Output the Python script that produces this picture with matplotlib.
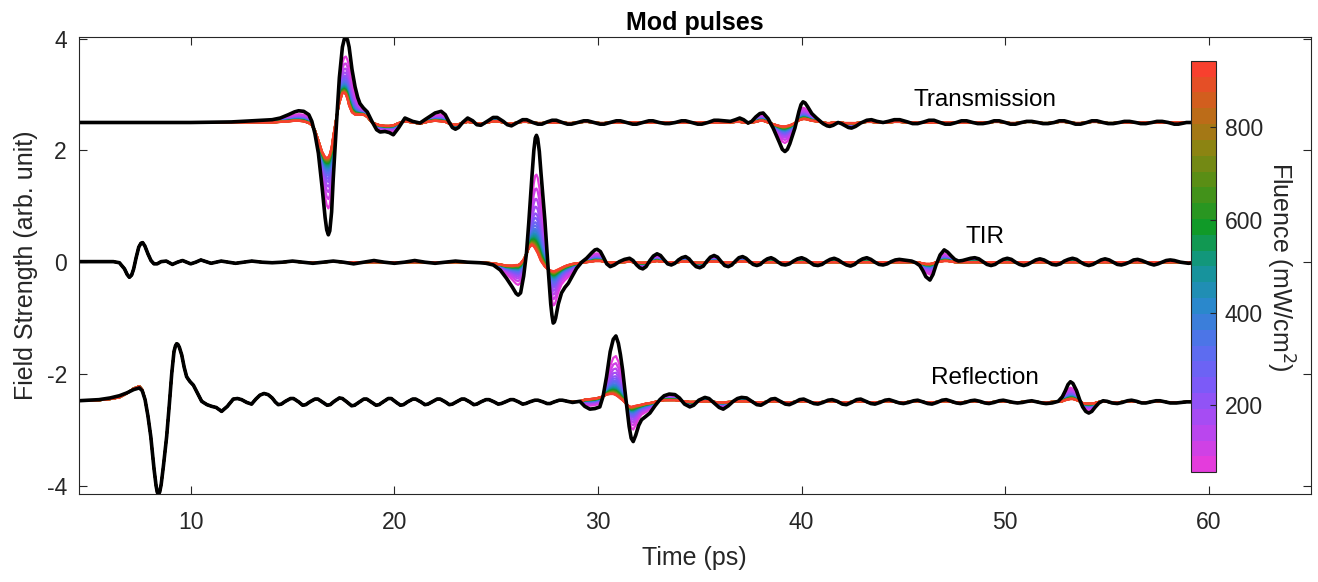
import numpy as np
import matplotlib
matplotlib.use("Agg")
import matplotlib.pyplot as plt
from matplotlib.colors import LinearSegmentedColormap, Normalize
from matplotlib.cm import ScalarMappable

plt.rcParams["font.family"] = ["Liberation Sans", "DejaVu Sans"]
plt.rcParams["font.size"] = 16.5
plt.rcParams["axes.unicode_minus"] = False

# fluence of each coloured curve (mW/cm^2) and where each curve sits
# between the highest-fluence (red) trace and the reference (black) trace
fluence = [60, 95, 130, 166, 201, 236, 271, 306, 342, 377, 412, 447, 482,
           518, 553, 588, 623, 658, 694, 729, 764, 799, 834, 870, 905, 940]
weight = [0.66, 0.54, 0.45, 0.38, 0.32, 0.28, 0.24, 0.21, 0.18, 0.16, 0.14,
          0.125, 0.11, 0.095, 0.083, 0.072, 0.061, 0.052, 0.043, 0.036,
          0.029, 0.022, 0.016, 0.010, 0.005, 0.0]

# ---- transmission (offset +2.5)
trans_t = [4.5, 10.0, 12.0, 13.0, 14.0, 14.4, 14.8, 15.1,
           15.3, 15.55, 15.8, 15.95, 16.1, 16.27, 16.45, 16.6,
           16.68, 16.76, 16.83, 16.92, 17.0, 17.17, 17.3, 17.45,
           17.54, 17.62, 17.7, 17.78,
           17.92, 18.07, 18.2, 18.31, 18.48, 18.67, 18.9, 19.13,
           19.3, 19.54, 19.75, 19.95, 20.2, 20.52, 20.9, 21.26,
           21.5, 21.75, 22.0, 22.3, 22.5, 22.7, 22.85, 23.0,
           23.15, 23.35, 23.6, 23.85, 24.05, 24.25, 24.6, 24.85,
           25.05, 25.35, 25.55, 25.75, 26.05, 26.3, 26.5, 26.8,
           27.05, 27.25, 27.5, 27.75, 27.95, 28.25, 28.5, 28.7,
           29.0, 29.3, 29.5, 29.8, 30.1, 30.3, 30.6, 30.9,
           31.1, 31.4, 31.7, 31.9, 32.2, 32.5, 32.7, 33.0,
           33.3, 33.5, 33.8, 34.1, 34.3, 34.6, 34.9, 35.1,
           35.4, 35.7, 35.9, 36.2, 36.5, 36.75, 36.96, 37.15,
           37.37, 37.55, 37.75, 37.95, 38.11, 38.35, 38.6, 38.9,
           39.05, 39.18, 39.3, 39.42, 39.67, 39.87, 39.97, 40.07,
           40.17, 40.3, 40.5, 40.73, 41.05, 41.25, 41.38, 41.55,
           41.79, 41.95, 42.1, 42.3, 42.45, 42.65, 42.9, 43.2,
           43.43, 43.7, 44.0, 44.25, 44.55, 44.82, 45.2, 45.45,
           45.7, 46.0, 46.25, 46.5, 46.8, 47.05, 47.3, 47.6,
           47.85, 48.1, 48.4, 48.65, 48.9, 49.2, 49.45, 49.7,
           50.0, 50.25, 50.5, 50.8, 51.05, 51.3, 51.6, 51.85,
           52.1, 52.4, 52.65, 52.9, 53.2, 53.45, 53.7, 54.0,
           54.25, 54.5, 54.8, 55.05, 55.3, 55.6, 55.85, 56.1,
           56.4, 56.65, 56.9, 57.2, 57.45, 57.7, 58.0, 58.3,
           58.5, 58.9, 59.5]
trans_black = [2.50, 2.50, 2.51, 2.53, 2.55, 2.58, 2.64, 2.69,
               2.71, 2.70, 2.64, 2.52, 2.30, 1.95, 1.35, 0.80,
               0.58, 0.49, 0.56, 0.90, 1.50, 2.55, 3.30, 3.85,
               3.99, 4.03, 3.98, 3.85,
               3.45, 3.14, 2.95, 2.84, 2.76, 2.69, 2.52, 2.37,
               2.33, 2.34, 2.32, 2.28, 2.40, 2.58, 2.52, 2.49,
               2.55, 2.61, 2.67, 2.70, 2.64, 2.50, 2.41, 2.38,
               2.41, 2.50, 2.58, 2.53, 2.46, 2.45, 2.53, 2.59,
               2.59, 2.52, 2.46, 2.44, 2.50, 2.55, 2.55, 2.50,
               2.47, 2.47, 2.51, 2.54, 2.54, 2.50, 2.47, 2.47,
               2.50, 2.53, 2.53, 2.50, 2.47, 2.47, 2.50, 2.53,
               2.53, 2.50, 2.47, 2.47, 2.50, 2.53, 2.53, 2.50,
               2.48, 2.48, 2.50, 2.53, 2.53, 2.50, 2.47, 2.47,
               2.50, 2.54, 2.54, 2.53, 2.52, 2.55, 2.58, 2.55,
               2.49, 2.52, 2.60, 2.66, 2.67, 2.57, 2.40, 2.15,
               2.02, 1.98, 2.02, 2.12, 2.40, 2.70, 2.82, 2.87,
               2.85, 2.78, 2.66, 2.58, 2.48, 2.44, 2.43, 2.45,
               2.50, 2.48, 2.45, 2.41, 2.40, 2.43, 2.49, 2.54,
               2.55, 2.52, 2.50, 2.52, 2.55, 2.55, 2.51, 2.48,
               2.48, 2.51, 2.54, 2.54, 2.50, 2.47, 2.47, 2.50,
               2.53, 2.53, 2.50, 2.48, 2.48, 2.50, 2.53, 2.53,
               2.50, 2.47, 2.47, 2.50, 2.52, 2.52, 2.50, 2.48,
               2.48, 2.50, 2.53, 2.53, 2.50, 2.47, 2.47, 2.50,
               2.53, 2.53, 2.50, 2.48, 2.48, 2.50, 2.52, 2.52,
               2.50, 2.48, 2.48, 2.50, 2.52, 2.52, 2.50, 2.47,
               2.47, 2.50, 2.50]
trans_red = [2.50, 2.50, 2.50, 2.50, 2.50, 2.51, 2.52, 2.53,
             2.53, 2.52, 2.49, 2.45, 2.36, 2.18, 1.98, 1.88,
             1.87, 1.88, 1.93, 2.05, 2.25, 2.62, 2.85, 3.02,
             3.03, 3.00, 2.92, 2.80,
             2.68, 2.64, 2.64, 2.64, 2.64, 2.60, 2.50, 2.47,
             2.45, 2.44, 2.44, 2.45, 2.49, 2.52, 2.50, 2.48,
             2.50, 2.52, 2.53, 2.52, 2.51, 2.48, 2.47, 2.46,
             2.47, 2.49, 2.51, 2.50, 2.48, 2.48, 2.50, 2.52,
             2.52, 2.50, 2.48, 2.48, 2.50, 2.51, 2.51, 2.50,
             2.49, 2.49, 2.50, 2.50, 2.50, 2.50, 2.49, 2.49,
             2.50, 2.51, 2.51, 2.50, 2.49, 2.49, 2.50, 2.50,
             2.50, 2.50, 2.50, 2.50, 2.50, 2.50, 2.50, 2.50,
             2.50, 2.50, 2.50, 2.50, 2.50, 2.50, 2.50, 2.50,
             2.50, 2.50, 2.50, 2.50, 2.50, 2.51, 2.51, 2.50,
             2.49, 2.50, 2.51, 2.53, 2.53, 2.50, 2.47, 2.44,
             2.43, 2.43, 2.44, 2.45, 2.49, 2.54, 2.55, 2.56,
             2.56, 2.55, 2.53, 2.52, 2.50, 2.49, 2.49, 2.50,
             2.50, 2.50, 2.49, 2.49, 2.49, 2.49, 2.50, 2.51,
             2.51, 2.50, 2.50, 2.50, 2.51, 2.51, 2.50, 2.50,
             2.50, 2.50, 2.50, 2.50, 2.50, 2.50, 2.50, 2.50,
             2.50, 2.50, 2.50, 2.50, 2.50, 2.50, 2.51, 2.51,
             2.50, 2.49, 2.49, 2.50, 2.51, 2.51, 2.50, 2.49,
             2.49, 2.50, 2.51, 2.51, 2.50, 2.49, 2.49, 2.50,
             2.51, 2.51, 2.50, 2.49, 2.49, 2.50, 2.50, 2.50,
             2.50, 2.50, 2.50, 2.50, 2.50, 2.50, 2.50, 2.50,
             2.50, 2.50, 2.50]

# ---- TIR (offset 0)
tir_t = [4.5, 6.2, 6.5, 6.75, 6.88, 6.99, 7.1, 7.2,
         7.32, 7.45, 7.56, 7.64, 7.75, 7.9, 8.05, 8.2,
         8.35, 8.55, 8.8, 8.95, 9.1, 9.35, 9.6, 9.8,
         10.0, 10.25, 10.5, 10.75, 11.0, 11.25, 11.5, 11.85,
         12.2, 12.6, 13.0, 13.5, 14.0, 14.5, 15.0, 15.5,
         16.0, 16.5, 17.0, 17.5, 18.0, 18.5, 19.0, 19.5,
         20.0, 20.5, 21.0, 21.5, 22.0, 22.5, 23.0, 23.6,
         24.2, 24.5, 24.86, 25.2, 25.51, 25.8, 25.98, 26.08,
         26.2, 26.35, 26.49, 26.6, 26.75, 26.85, 26.92, 26.98,
         27.04, 27.12,
         27.2, 27.39, 27.55, 27.68, 27.74, 27.8, 27.86, 27.92,
         28.05, 28.21,
         28.38, 28.54, 28.75, 28.95, 29.2, 29.44, 29.7, 29.85,
         29.96, 30.12, 30.28, 30.43, 30.6, 30.8, 31.05, 31.3,
         31.55, 31.72, 31.9, 32.05, 32.2, 32.36, 32.55, 32.72,
         32.9, 33.07, 33.25, 33.42, 33.6, 33.78, 33.95, 34.12,
         34.3, 34.47, 34.65, 34.82, 35.0, 35.17, 35.35, 35.52,
         35.7, 35.87, 36.05, 36.22, 36.4, 36.57, 36.75, 36.92,
         37.1, 37.27, 37.45, 37.62, 37.8, 37.97, 38.15, 38.32,
         38.5, 38.67, 38.85, 39.02, 39.2, 39.4, 39.6, 39.8,
         40.0, 40.2, 40.4, 40.6, 40.8, 41.0, 41.2, 41.4,
         41.6, 41.8, 42.0, 42.2, 42.4, 42.6, 42.8, 43.0,
         43.2, 43.4, 43.6, 43.8, 44.0, 44.2, 44.4, 44.6,
         44.8, 45.0, 45.2, 45.4, 45.6, 45.8, 45.95, 46.1,
         46.3, 46.45, 46.6, 46.8, 47.0, 47.17, 47.35, 47.52,
         47.7, 47.9, 48.1, 48.3, 48.5, 48.7, 48.9, 49.1,
         49.3, 49.5, 49.7, 49.9, 50.1, 50.3, 50.5, 50.7,
         50.9, 51.1, 51.3, 51.5, 51.7, 51.9, 52.1, 52.3,
         52.5, 52.7, 52.9, 53.1, 53.3, 53.5, 53.7, 53.9,
         54.1, 54.3, 54.5, 54.7, 54.9, 55.1, 55.3, 55.5,
         55.7, 55.9, 56.1, 56.3, 56.5, 56.7, 56.9, 57.1,
         57.3, 57.5, 57.7, 57.9, 58.1, 58.3, 58.6, 59.0,
         59.5]
tir_black = [0.01, 0.01, -0.01, -0.12, -0.22, -0.27, -0.23, -0.12,
             0.08, 0.27, 0.34, 0.35, 0.29, 0.15, 0.03, -0.03,
             -0.03, 0.01, 0.02, -0.01, -0.04, 0.00, 0.03, 0.00,
             -0.03, 0.00, 0.04, 0.01, -0.02, 0.00, 0.02, 0.00,
             -0.02, 0.00, 0.02, 0.00, -0.01, 0.00, 0.02, 0.00,
             -0.02, 0.00, 0.02, 0.00, -0.03, 0.00, 0.03, 0.00,
             -0.02, 0.00, 0.03, 0.00, -0.02, 0.00, 0.02, 0.00,
             -0.01, -0.02, -0.05, -0.14, -0.29, -0.45, -0.56, -0.59,
             -0.55, -0.25, 0.17, 0.70, 1.50, 2.00, 2.22, 2.27,
             2.21, 1.98,
             1.60, 0.76, -0.10, -0.75, -0.95, -1.09, -1.07, -1.00,
             -0.75, -0.55,
             -0.45, -0.38, -0.24, -0.11, 0.00, 0.07, 0.17, 0.22,
             0.23, 0.19, 0.08, -0.03, -0.08, -0.05, 0.01, 0.05,
             0.07, 0.03, -0.05, -0.10, -0.12, -0.08, 0.03, 0.11,
             0.15, 0.12, 0.04, -0.03, -0.05, -0.02, 0.04, 0.08,
             0.10, 0.06, -0.02, -0.08, -0.10, -0.07, 0.02, 0.09,
             0.12, 0.09, 0.01, -0.06, -0.08, -0.05, 0.02, 0.08,
             0.10, 0.07, 0.01, -0.04, -0.06, -0.04, 0.02, 0.06,
             0.08, 0.05, 0.00, -0.04, -0.05, -0.03, 0.02, 0.06,
             0.08, 0.05, 0.00, -0.05, -0.06, -0.04, 0.01, 0.05,
             0.07, 0.04, -0.01, -0.05, -0.07, -0.04, 0.02, 0.06,
             0.08, 0.05, 0.00, -0.04, -0.05, -0.03, 0.01, 0.04,
             0.05, 0.04, 0.03, 0.02, -0.01, -0.06, -0.15, -0.26,
             -0.32, -0.22, -0.05, 0.13, 0.22, 0.18, 0.11, 0.05,
             0.02, 0.03, 0.05, 0.07, 0.08, 0.06, 0.01, -0.04,
             -0.06, -0.04, 0.01, 0.05, 0.07, 0.05, 0.00, -0.04,
             -0.06, -0.04, 0.00, 0.04, 0.06, 0.04, 0.00, -0.04,
             -0.05, -0.03, 0.02, 0.05, 0.07, 0.05, 0.00, -0.04,
             -0.06, -0.04, 0.00, 0.04, 0.06, 0.04, 0.00, -0.04,
             -0.05, -0.03, 0.00, 0.04, 0.05, 0.03, 0.00, -0.03,
             -0.05, -0.03, 0.00, 0.03, 0.04, 0.03, 0.00, -0.02,
             0.00]
tir_red = [0.01, 0.01, -0.01, -0.12, -0.22, -0.27, -0.23, -0.12,
           0.08, 0.27, 0.34, 0.35, 0.29, 0.15, 0.03, -0.03,
           -0.03, 0.01, 0.02, -0.01, -0.04, 0.00, 0.03, 0.00,
           -0.03, 0.00, 0.04, 0.01, -0.02, 0.00, 0.02, 0.00,
           -0.02, 0.00, 0.02, 0.00, -0.01, 0.00, 0.01, 0.00,
           -0.01, 0.00, 0.01, 0.00, 0.00, 0.00, 0.00, 0.00,
           0.00, 0.00, 0.00, 0.00, 0.00, 0.00, 0.00, 0.00,
           0.00, -0.01, -0.02, -0.04, -0.06, -0.06, -0.05, -0.05,
           -0.02, 0.05, 0.15, 0.25, 0.31, 0.28, 0.24, 0.20,
           0.16, 0.09,
           0.02, -0.08, -0.13, -0.15, -0.155, -0.16, -0.16, -0.15,
           -0.13, -0.10,
           -0.07, -0.05, -0.03, -0.02, -0.01, 0.00, 0.01, 0.02,
           0.02, 0.02, 0.01, 0.00, -0.01, 0.00, 0.00, 0.00,
           0.01, 0.00, 0.00, -0.01, -0.01, -0.01, 0.00, 0.01,
           0.02, 0.01, 0.01, 0.00, 0.00, 0.00, 0.00, 0.01,
           0.01, 0.01, 0.00, -0.01, -0.01, -0.01, 0.00, 0.01,
           0.01, 0.01, 0.00, 0.00, 0.00, 0.00, 0.00, 0.01,
           0.01, 0.01, 0.00, 0.00, 0.00, 0.00, 0.00, 0.00,
           0.00, 0.00, 0.00, 0.00, 0.00, 0.00, 0.00, 0.00,
           0.00, 0.00, 0.00, 0.00, 0.00, 0.00, 0.00, 0.00,
           0.00, 0.00, 0.00, 0.00, 0.00, 0.00, 0.00, 0.00,
           0.00, 0.00, 0.00, 0.00, 0.00, 0.00, 0.00, 0.00,
           0.00, 0.00, 0.00, 0.00, 0.00, -0.01, -0.02, -0.03,
           -0.03, -0.02, 0.00, 0.01, 0.02, 0.02, 0.01, 0.00,
           0.00, 0.00, 0.00, 0.00, 0.00, 0.00, 0.00, 0.00,
           0.00, 0.00, 0.00, 0.00, 0.00, 0.00, 0.00, 0.00,
           0.00, 0.00, 0.00, 0.00, 0.00, 0.00, 0.00, 0.00,
           0.00, 0.00, 0.00, 0.00, 0.00, 0.00, 0.00, 0.00,
           0.00, 0.00, 0.00, 0.00, 0.00, 0.00, 0.00, 0.00,
           0.00, 0.00, 0.00, 0.00, 0.00, 0.00, 0.00, 0.00,
           0.00, 0.00, 0.00, 0.00, 0.00, 0.00, 0.00, 0.00,
           0.00]

# ---- reflection (offset -2.5)
refl_t = [4.48, 5.5, 6.04, 6.5, 6.86, 7.2, 7.48, 7.62,
          7.76, 7.9, 8.04, 8.2, 8.3, 8.36, 8.42, 8.48,
          8.55, 8.66,
          8.82, 8.95, 9.07, 9.18, 9.25, 9.31, 9.37, 9.44,
          9.56, 9.68,
          9.8, 9.95, 10.13, 10.3, 10.54, 10.8, 11.03, 11.25,
          11.52, 11.8, 12.09, 12.3, 12.5, 12.75, 12.99, 13.2,
          13.4, 13.6, 13.8, 14.0, 14.15, 14.3, 14.45, 14.65,
          14.9, 15.05, 15.3, 15.5, 15.65, 15.85, 16.1, 16.25,
          16.5, 16.7, 16.85, 17.05, 17.3, 17.45, 17.7, 17.9,
          18.05, 18.25, 18.5, 18.65, 18.9, 19.1, 19.25, 19.45,
          19.7, 19.85, 20.1, 20.3, 20.45, 20.65, 20.9, 21.05,
          21.3, 21.5, 21.65, 21.85, 22.1, 22.25, 22.5, 22.7,
          22.85, 23.05, 23.3, 23.45, 23.7, 23.9, 24.05, 24.25,
          24.5, 24.65, 24.9, 25.1, 25.25, 25.45, 25.7, 25.85,
          26.1, 26.3, 26.45, 26.65, 26.9, 27.05, 27.3, 27.5,
          27.65, 27.85, 28.1, 28.25, 28.5, 28.75, 29.11, 29.35,
          29.6, 29.85, 30.09, 30.25, 30.42, 30.6, 30.75, 30.88,
          31.0, 31.1, 31.21, 31.37, 31.53, 31.63, 31.73, 31.85,
          32.0, 32.14, 32.35, 32.55, 32.8, 33.04, 33.25, 33.5,
          33.78, 34.0, 34.25, 34.51, 34.7, 34.95, 35.25, 35.45,
          35.7, 35.95, 36.15, 36.4, 36.64, 36.85, 37.05, 37.3,
          37.55, 37.8, 38.0, 38.25, 38.5, 38.7, 38.95, 39.2,
          39.4, 39.65, 39.9, 40.1, 40.35, 40.6, 40.8, 41.05,
          41.3, 41.5, 41.75, 42.0, 42.2, 42.45, 42.7, 42.9,
          43.15, 43.4, 43.6, 43.85, 44.1, 44.3, 44.55, 44.8,
          45.0, 45.25, 45.5, 45.7, 45.95, 46.2, 46.4, 46.65,
          46.9, 47.1, 47.35, 47.6, 47.8, 48.05, 48.3, 48.5,
          48.75, 49.0, 49.2, 49.45, 49.7, 49.9, 50.15, 50.4,
          50.6, 50.85, 51.1, 51.3, 51.55, 51.8, 52.0, 52.3,
          52.6, 52.8, 52.95, 53.08, 53.2, 53.32, 53.5, 53.65,
          53.8, 53.95, 54.1, 54.25, 54.4, 54.6, 54.8, 55.0,
          55.25, 55.5, 55.75, 56.0, 56.2, 56.45, 56.7, 56.9,
          57.15, 57.4, 57.6, 57.85, 58.1, 58.4, 58.9, 59.5]
refl_black = [-2.48, -2.46, -2.43, -2.39, -2.34, -2.28, -2.25, -2.30,
              -2.46, -2.75, -3.12, -3.70, -4.00, -4.12, -4.15, -4.11,
              -3.98, -3.65,
              -3.12, -2.55, -1.99, -1.60, -1.50, -1.46, -1.47, -1.52,
              -1.66, -1.88,
              -2.05, -2.13, -2.20, -2.32, -2.49, -2.55, -2.58, -2.60,
              -2.67, -2.58, -2.45, -2.44, -2.46, -2.51, -2.54, -2.45,
              -2.38, -2.35, -2.37, -2.43, -2.50, -2.55, -2.54, -2.49,
              -2.44, -2.44, -2.50, -2.56, -2.55, -2.50, -2.45, -2.45,
              -2.51, -2.56, -2.55, -2.49, -2.43, -2.44, -2.51, -2.57,
              -2.56, -2.51, -2.45, -2.45, -2.51, -2.56, -2.55, -2.50,
              -2.44, -2.44, -2.51, -2.56, -2.55, -2.50, -2.45, -2.45,
              -2.50, -2.55, -2.54, -2.50, -2.45, -2.45, -2.50, -2.55,
              -2.54, -2.50, -2.45, -2.45, -2.50, -2.55, -2.54, -2.50,
              -2.46, -2.46, -2.50, -2.54, -2.53, -2.50, -2.46, -2.46,
              -2.50, -2.54, -2.53, -2.50, -2.47, -2.47, -2.50, -2.53,
              -2.53, -2.50, -2.47, -2.47, -2.49, -2.51, -2.49, -2.58,
              -2.63, -2.62, -2.59, -2.40, -2.05, -1.60, -1.38, -1.32,
              -1.45, -1.65, -1.93, -2.45, -2.94, -3.15, -3.21, -3.10,
              -2.92, -2.82, -2.76, -2.70, -2.57, -2.46, -2.39, -2.36,
              -2.37, -2.43, -2.54, -2.59, -2.56, -2.47, -2.42, -2.44,
              -2.52, -2.60, -2.63, -2.57, -2.49, -2.44, -2.42, -2.43,
              -2.49, -2.55, -2.56, -2.51, -2.45, -2.44, -2.49, -2.54,
              -2.55, -2.51, -2.46, -2.45, -2.49, -2.53, -2.54, -2.51,
              -2.47, -2.46, -2.49, -2.54, -2.55, -2.51, -2.46, -2.45,
              -2.49, -2.53, -2.54, -2.51, -2.47, -2.46, -2.49, -2.52,
              -2.53, -2.51, -2.48, -2.47, -2.50, -2.53, -2.54, -2.51,
              -2.47, -2.46, -2.49, -2.52, -2.53, -2.51, -2.48, -2.47,
              -2.49, -2.52, -2.53, -2.51, -2.48, -2.47, -2.49, -2.51,
              -2.52, -2.51, -2.49, -2.48, -2.50, -2.52, -2.53, -2.52,
              -2.49, -2.41, -2.30, -2.19, -2.14, -2.17, -2.30, -2.46,
              -2.59, -2.67, -2.70, -2.67, -2.60, -2.52, -2.48, -2.49,
              -2.52, -2.53, -2.51, -2.48, -2.47, -2.49, -2.52, -2.52,
              -2.50, -2.48, -2.48, -2.50, -2.52, -2.52, -2.50, -2.50]
refl_red = [-2.48, -2.47, -2.45, -2.42, -2.35, -2.26, -2.22, -2.28,
            -2.46, -2.75, -3.12, -3.70, -4.00, -4.12, -4.15, -4.11,
            -3.98, -3.65,
            -3.12, -2.55, -1.99, -1.60, -1.50, -1.46, -1.47, -1.52,
            -1.66, -1.88,
            -2.05, -2.13, -2.20, -2.32, -2.49, -2.55, -2.58, -2.60,
            -2.67, -2.58, -2.45, -2.44, -2.46, -2.51, -2.54, -2.45,
            -2.38, -2.35, -2.37, -2.43, -2.50, -2.55, -2.54, -2.49,
            -2.44, -2.44, -2.50, -2.56, -2.55, -2.50, -2.45, -2.45,
            -2.51, -2.56, -2.55, -2.49, -2.43, -2.44, -2.51, -2.57,
            -2.56, -2.51, -2.45, -2.45, -2.51, -2.56, -2.55, -2.50,
            -2.44, -2.44, -2.51, -2.56, -2.55, -2.50, -2.45, -2.45,
            -2.50, -2.55, -2.54, -2.50, -2.45, -2.45, -2.50, -2.55,
            -2.54, -2.50, -2.45, -2.45, -2.50, -2.55, -2.54, -2.50,
            -2.46, -2.46, -2.50, -2.54, -2.53, -2.50, -2.46, -2.46,
            -2.50, -2.54, -2.53, -2.50, -2.47, -2.47, -2.50, -2.53,
            -2.53, -2.50, -2.47, -2.47, -2.49, -2.50, -2.49, -2.46,
            -2.45, -2.44, -2.42, -2.40, -2.37, -2.36, -2.36, -2.38,
            -2.41, -2.44, -2.47, -2.53, -2.58, -2.59, -2.58, -2.57,
            -2.56, -2.55, -2.53, -2.52, -2.50, -2.48, -2.47, -2.47,
            -2.47, -2.48, -2.49, -2.50, -2.50, -2.50, -2.49, -2.49,
            -2.50, -2.51, -2.51, -2.50, -2.50, -2.49, -2.49, -2.49,
            -2.50, -2.51, -2.51, -2.50, -2.49, -2.49, -2.50, -2.51,
            -2.51, -2.50, -2.49, -2.49, -2.50, -2.51, -2.51, -2.50,
            -2.49, -2.49, -2.50, -2.51, -2.51, -2.50, -2.49, -2.49,
            -2.50, -2.51, -2.51, -2.50, -2.49, -2.49, -2.50, -2.51,
            -2.51, -2.50, -2.49, -2.49, -2.50, -2.51, -2.51, -2.50,
            -2.49, -2.49, -2.50, -2.51, -2.51, -2.50, -2.49, -2.49,
            -2.50, -2.51, -2.51, -2.50, -2.49, -2.49, -2.50, -2.51,
            -2.51, -2.50, -2.49, -2.49, -2.50, -2.51, -2.51, -2.50,
            -2.50, -2.49, -2.47, -2.46, -2.45, -2.45, -2.47, -2.49,
            -2.52, -2.53, -2.53, -2.53, -2.52, -2.50, -2.49, -2.50,
            -2.51, -2.51, -2.50, -2.49, -2.49, -2.50, -2.51, -2.51,
            -2.50, -2.49, -2.49, -2.50, -2.51, -2.51, -2.50, -2.50]

traces = [(trans_t, trans_black, trans_red),
          (tir_t, tir_black, tir_red),
          (refl_t, refl_black, refl_red)]

cmap_colors = ["#E43CDC", "#B049F2", "#7C5AF8", "#5570EE", "#2A88CC",
               "#129690", "#109A28", "#4E9016", "#8C8412", "#C8661A", "#F8402E"]
cmap = LinearSegmentedColormap.from_list("fluence", cmap_colors, N=26)
norm = Normalize(vmin=55, vmax=944)

fig = plt.figure(figsize=(13.18, 5.82), dpi=100)
ax = fig.add_axes([0.0597, 0.1507, 0.9348, 0.7863])

for t, black, red in traces:
    black = np.array(black)
    red = np.array(red)
    for f, w in zip(fluence, weight):
        ax.plot(t, red + w * (black - red), color=cmap(norm(f)), lw=1.6,
                solid_joinstyle="round")
    ax.plot(t, black, color="k", lw=2.6, solid_joinstyle="round")

ax.set_xlim(4.5, 65)
ax.set_ylim(-4.154, 4.036)
ax.set_xticks([10, 20, 30, 40, 50, 60])
ax.set_yticks([-4, -2, 0, 2, 4])
ax.tick_params(direction="in", top=True, right=True, length=6,
               colors="#262626", labelsize=16.5, width=0.8)
ax.tick_params(axis="x", pad=12)
ax.tick_params(axis="y", pad=8.5)
for s in ax.spines.values():
    s.set_color("#262626")
    s.set_linewidth(0.8)

ax.set_title("Mod pulses", fontweight="bold", fontsize=18, pad=5)
ax.set_xlabel("Time (ps)", color="#262626", fontsize=18, labelpad=9)
ax.set_ylabel("Field Strength (arb. unit)", color="#262626", fontsize=18,
              labelpad=6)

ax.text(49, 2.9, "Transmission", ha="center", va="center", fontsize=17.5)
ax.text(49, 0.45, "TIR", ha="center", va="center", fontsize=17.5)
ax.text(49, -2.07, "Reflection", ha="center", va="center", fontsize=17.5)

cax = fig.add_axes([0.9034, 0.1885, 0.019, 0.7072])
cb = fig.colorbar(ScalarMappable(norm=norm, cmap=cmap), cax=cax)
cb.set_ticks([200, 400, 600, 800])
cb.ax.tick_params(direction="in", length=4, colors="#262626", labelsize=16.5,
                  pad=6.5)
cb.outline.set_edgecolor("#262626")
cb.set_label("Fluence (mW/cm$^2$)", rotation=270, labelpad=24, color="#262626",
             fontsize=18)

fig.savefig("out.png", dpi=100)
